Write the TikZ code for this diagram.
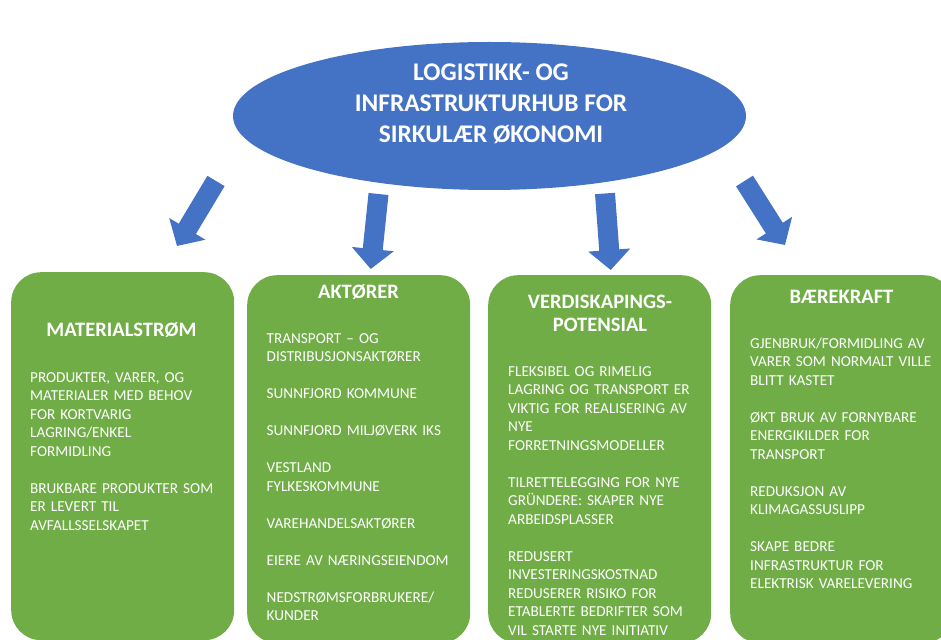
\documentclass[tikz,border=0pt]{standalone}
\usepackage{fontspec}
\setmainfont{Carlito}
\usetikzlibrary{shapes.geometric,arrows.meta}

\definecolor{hubblue}{HTML}{4472C4}
\definecolor{panelgreen}{HTML}{70AD47}

\tikzset{
	hub/.style={ellipse, fill=hubblue, minimum width=513pt, minimum height=148pt, inner sep=0pt},
	hubtext/.style={align=center, text=white, inner sep=0pt, font=\fontsize{25.4}{31}\selectfont\bfseries},
	panel/.style={rectangle, rounded corners=30pt, fill=panelgreen, minimum width=223pt, minimum height=368pt, anchor=north west, inner sep=0pt},
	paneltitle/.style={anchor=base, align=center, text=white, inner sep=0pt, font=\fontsize{20.5}{23.5}\selectfont\bfseries},
	paneltext/.style={anchor=base west, align=left, text width=205pt, text=white, inner sep=0pt, font=\fontsize{15.2}{18.5}\selectfont},
	blockarrow/.style={draw=hubblue, line width=20pt, -{Triangle[width=41pt,length=20pt]}},
}

\begin{document}
\begin{tikzpicture}[x=1pt, y=-1pt]
		\useasboundingbox (0,0) rectangle (941,639);
		\clip (0,0) rectangle (941,639);

		% Hub
		\node[hub] (hub) at (489.5,116) {};
		\node[hubtext] (title) at (491,104) {LOGISTIKK- OG\\INFRASTRUKTURHUB FOR\\SIRKULÆR ØKONOMI};

		% Arrows
		\coordinate (s1) at (216,181);   \coordinate (e1) at (177,246);
		\coordinate (s2) at (378.5,194); \coordinate (e2) at (370.7,269);
		\coordinate (s3) at (605,193.5); \coordinate (e3) at (610.7,270);
		\coordinate (s4) at (744.5,181); \coordinate (e4) at (785,245);
		\foreach \i in {1,2,3,4}
			\draw[blockarrow] (s\i) -- (e\i);

		% Panels
		\node[panel] (mat) at (11,272) {};
		\node[panel] (akt) at (247,275) {};
		\node[panel] (verdi) at (488,275) {};
		\node[panel] (baer) at (730,275) {};

		% Materialstrøm
		\node[paneltitle] (mattitle) at (121.5,336.5) {MATERIALSTRØM};
		\node[paneltext] (mattext) at (30,382) {PRODUKTER, VARER, OG\\MATERIALER MED BEHOV\\FOR KORTVARIG\\LAGRING/ENKEL\\FORMIDLING\\[18.5pt]BRUKBARE PRODUKTER SOM\\ER LEVERT TIL\\AVFALLSSELSKAPET};

		% Aktører
		\node[paneltitle] (akttitle) at (358.5,298.5) {AKTØRER};
		\node[paneltext] (akttext) at (266.5,343) {TRANSPORT – OG\\DISTRIBUSJONSAKTØRER\\[18.5pt]SUNNFJORD KOMMUNE\\[18.5pt]SUNNFJORD MILJØVERK IKS\\[18.5pt]VESTLAND\\FYLKESKOMMUNE\\[18.5pt]VAREHANDELSAKTØRER\\[18.5pt]EIERE AV NÆRINGSEIENDOM\\[18.5pt]NEDSTRØMSFORBRUKERE/\\KUNDER};

		% Verdiskapingspotensial
		\node[paneltitle] (verdititle) at (600,331.5) {VERDISKAPINGS-\\POTENSIAL};
		\node[paneltext] (verditext) at (508,376) {FLEKSIBEL OG RIMELIG\\LAGRING OG TRANSPORT ER\\VIKTIG FOR REALISERING AV\\NYE\\FORRETNINGSMODELLER\\[18.5pt]TILRETTELEGGING FOR NYE\\GRÜNDERE: SKAPER NYE\\ARBEIDSPLASSER\\[18.5pt]REDUSERT\\INVESTERINGSKOSTNAD\\REDUSERER RISIKO FOR\\ETABLERTE BEDRIFTER SOM\\VIL STARTE NYE INITIATIV};

		% Bærekraft
		\node[paneltitle] (baertitle) at (841.5,303) {BÆREKRAFT};
		\node[paneltext] (baertext) at (750,348) {GJENBRUK/FORMIDLING AV\\VARER SOM NORMALT VILLE\\BLITT KASTET\\[18.5pt]ØKT BRUK AV FORNYBARE\\ENERGIKILDER FOR\\TRANSPORT\\[18.5pt]REDUKSJON AV\\KLIMAGASSUSLIPP\\[18.5pt]SKAPE BEDRE\\INFRASTRUKTUR FOR\\ELEKTRISK VARELEVERING};
	\end{tikzpicture}
\end{document}
